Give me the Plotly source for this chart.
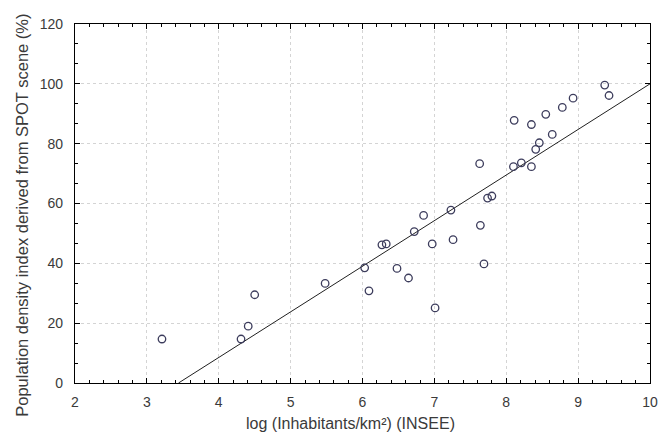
import plotly.graph_objects as go

log_density = [3.21, 4.31, 4.41, 4.50, 5.48, 6.03, 6.09, 6.27, 6.33, 6.48, 6.64, 6.72,
               6.85, 6.97, 7.01, 7.23, 7.26, 7.63, 7.64, 7.69, 7.74, 7.80, 8.10, 8.11,
               8.21, 8.35, 8.35, 8.41, 8.46, 8.55, 8.64, 8.78, 8.93, 9.37, 9.43]
spot_index = [14.7, 14.7, 19.0, 29.5, 33.3, 38.5, 30.8, 46.2, 46.5, 38.3, 35.1, 50.6,
              56.0, 46.5, 25.1, 57.8, 47.9, 73.3, 52.7, 39.8, 61.8, 62.5, 72.3, 87.8,
              73.6, 86.4, 72.3, 78.1, 80.3, 89.8, 83.1, 92.1, 95.2, 99.6, 96.1]

fit_x = [3.44, 10.0]
fit_y = [0.0, 100.0]

x_ticks = [2, 3, 4, 5, 6, 7, 8, 9, 10]
y_ticks = [0, 20, 40, 60, 80, 100, 120]

x_title = "log (Inhabitants/km²) (INSEE)"
y_title = "Population density index derived from SPOT scene (%)"

font_family = "Liberation Sans, Arial, sans-serif"
text_color = "#3a3a3a"

W, H = 669, 435
ML, MR, MT, MB = 75, 11, 24, 52

fig = go.Figure()
fig.add_trace(go.Scatter(x=fit_x, y=fit_y, mode="lines",
                         line=dict(color="#202020", width=1), hoverinfo="skip"))
fig.add_trace(go.Scatter(x=log_density, y=spot_index, mode="markers",
                         marker=dict(symbol="circle-open", size=7.5,
                                     color="#3c3c5c", line=dict(width=1.3))))

axis_common = dict(
    showline=True, linecolor="black", linewidth=1.2, mirror="allticks",
    ticks="inside", ticklen=5, tickcolor="black", tickwidth=1,
    showgrid=True, gridcolor="#d4d4d4", griddash="dot", gridwidth=1,
    zeroline=False,
    tickfont=dict(family=font_family, size=14, color=text_color),
)

fig.update_xaxes(range=[2, 10], tickvals=x_ticks, ticktext=[str(v) for v in x_ticks],
                 ticklabelstandoff=6,
                 minor=dict(dtick=0.2, tick0=2, ticks="inside", ticklen=3,
                            tickcolor="black", showgrid=False),
                 **axis_common)
fig.update_yaxes(range=[0, 120], tickvals=y_ticks, ticktext=[str(v) for v in y_ticks],
                 ticklabelstandoff=8,
                 minor=dict(dtick=20/3, tick0=0, ticks="inside", ticklen=3,
                            tickcolor="black", showgrid=False),
                 **axis_common)

fig.add_annotation(text=x_title, xref="paper", yref="paper",
                   x=(354 - ML) / (W - ML - MR), y=-(423 - (H - MB)) / (H - MT - MB),
                   showarrow=False, xanchor="center", yanchor="middle",
                   font=dict(family=font_family, size=16, color=text_color))
fig.add_annotation(text=y_title, xref="paper", yref="paper", textangle=-90,
                   x=-(ML - 21) / (W - ML - MR), y=((H - MB) - 215) / (H - MT - MB),
                   showarrow=False, xanchor="center", yanchor="middle",
                   font=dict(family=font_family, size=16.5, color=text_color))

fig.update_layout(
    width=W, height=H,
    margin=dict(l=ML, r=MR, t=MT, b=MB),
    paper_bgcolor="white", plot_bgcolor="white",
    showlegend=False,
)

fig.write_html("out.html")
